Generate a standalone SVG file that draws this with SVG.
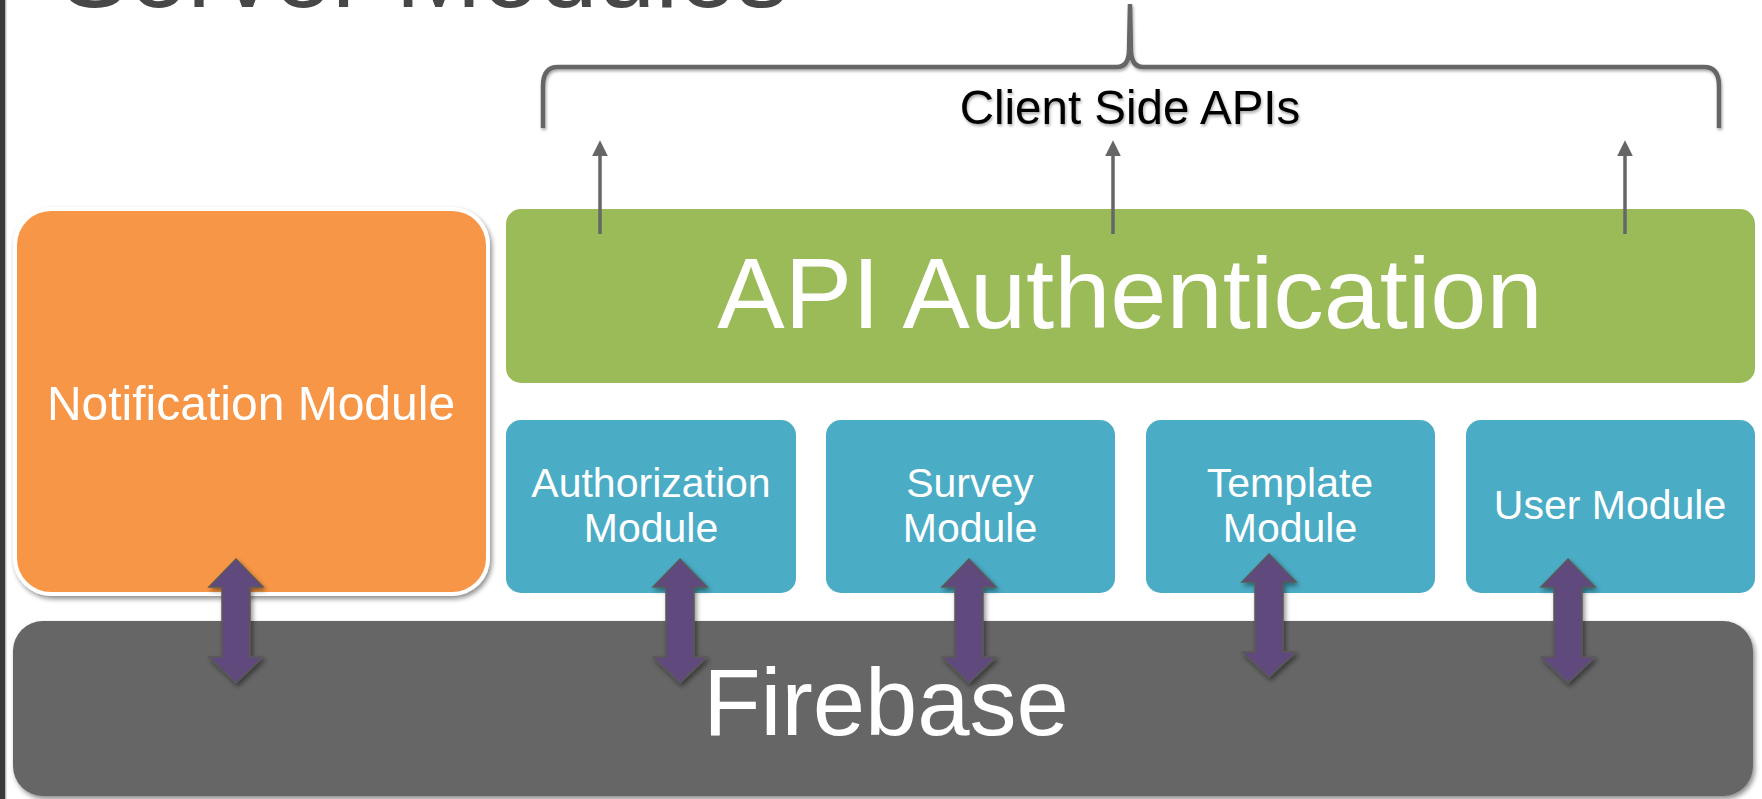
<svg xmlns="http://www.w3.org/2000/svg" width="1762" height="799" viewBox="0 0 1762 799">
<defs>
<filter id="sh" x="-10%" y="-10%" width="130%" height="130%">
<feGaussianBlur in="SourceAlpha" stdDeviation="2.5"/>
<feOffset dx="1.5" dy="3" result="b"/>
<feComponentTransfer><feFuncA type="linear" slope="0.45"/></feComponentTransfer>
<feMerge><feMergeNode/><feMergeNode in="SourceGraphic"/></feMerge>
</filter>
<filter id="tsh" x="-5%" y="-20%" width="110%" height="150%">
<feGaussianBlur in="SourceAlpha" stdDeviation="1.5"/>
<feOffset dx="1" dy="2"/>
<feComponentTransfer><feFuncA type="linear" slope="0.35"/></feComponentTransfer>
<feMerge><feMergeNode/><feMergeNode in="SourceGraphic"/></feMerge>
</filter>
<marker id="ah" viewBox="0 0 10 10" refX="4" refY="5" markerWidth="4.6" markerHeight="4.6" orient="auto" markerUnits="strokeWidth">
<path d="M0,0 L10,5 L0,10 z" fill="#666666"/>
</marker>
</defs>
<style>
text{font-family:"Liberation Sans",Arial,Helvetica,sans-serif}
.w{fill:#ffffff}
.mod{fill:#4bacc6}
.ml{font-size:41px;fill:#ffffff;text-anchor:middle}
.up{stroke:#666666;stroke-width:3.5;fill:none;marker-end:url(#ah)}
.dbl{fill:#604a7b;stroke:#595959;stroke-width:1.5;stroke-linejoin:miter}
</style>
<rect x="0" y="0" width="1762" height="799" fill="#ffffff"/>
<rect x="0" y="0" width="5" height="799" fill="#3a3a3a"/>
<rect x="5" y="0" width="1.5" height="799" fill="#bdbdbd"/>
<text id="title" x="60" y="7" font-size="104" fill="#474747">Server Modules</text>

<g id="bracket" filter="url(#tsh)">
<path d="M543,128 L543,86 Q543,67 558,67 L1117,67 Q1128,67 1129,52 L1130,4 L1131,52 Q1132,67 1143,67 L1704,67 Q1719,67 1719,86 L1719,128" fill="none" stroke="#666666" stroke-width="4.5"/>
<text x="1130" y="124" font-size="47.5" text-anchor="middle" fill="#000000">Client Side APIs</text>
</g>

<g id="notification" filter="url(#sh)">
<rect x="13" y="207" width="477" height="389" rx="38" fill="#ffffff"/>
<rect x="17" y="211" width="469" height="381" rx="34" fill="#f79646"/>
<text x="251" y="420" font-size="48" class="w" text-anchor="middle">Notification Module</text>
</g>

<g id="api-auth">
<rect x="506" y="209" width="1249" height="174" rx="15" fill="#9bbb59"/>
<text x="1130" y="328" font-size="101" class="w" text-anchor="middle">API Authentication</text>
</g>

<g id="authorization">
<rect class="mod" x="506" y="420" width="290" height="173" rx="15"/>
<text class="ml" x="651" y="497">Authorization</text>
<text class="ml" x="651" y="542">Module</text>
</g>
<g id="survey">
<rect class="mod" x="826" y="420" width="289" height="173" rx="15"/>
<text class="ml" x="970" y="497">Survey</text>
<text class="ml" x="970" y="542">Module</text>
</g>
<g id="template">
<rect class="mod" x="1146" y="420" width="289" height="173" rx="15"/>
<text class="ml" x="1290" y="497">Template</text>
<text class="ml" x="1290" y="542">Module</text>
</g>
<g id="user">
<rect class="mod" x="1466" y="420" width="289" height="173" rx="15"/>
<text class="ml" x="1610" y="519">User Module</text>
</g>

<g id="firebase" filter="url(#sh)">
<rect x="13" y="621" width="1740" height="175" rx="30" fill="#666666"/>
<text x="886" y="735" font-size="94" class="w" text-anchor="middle">Firebase</text>
</g>

<g id="connectors">
<line class="up" x1="600" y1="234" x2="600" y2="150"/>
<line class="up" x1="1113" y1="234" x2="1113" y2="150"/>
<line class="up" x1="1625" y1="234" x2="1625" y2="150"/>
<g filter="url(#sh)">
<path class="dbl" d="M236,559 L263,587 L250,587 L250,657 L263,657 L236,683 L209,657 L222,657 L222,587 L209,587 Z"/>
<path class="dbl" d="M680,559 L707,587 L694,587 L694,657 L707,657 L680,683 L653,657 L666,657 L666,587 L653,587 Z"/>
<path class="dbl" d="M969,559 L996,587 L983,587 L983,657 L996,657 L969,683 L942,657 L955,657 L955,587 L942,587 Z"/>
<path class="dbl" d="M1269,554 L1296,582 L1283,582 L1283,652 L1296,652 L1269,677 L1242,652 L1255,652 L1255,582 L1242,582 Z"/>
<path class="dbl" d="M1568,559 L1595,587 L1582,587 L1582,657 L1595,657 L1568,683 L1541,657 L1554,657 L1554,587 L1541,587 Z"/>
</g>
</g>
</svg>
